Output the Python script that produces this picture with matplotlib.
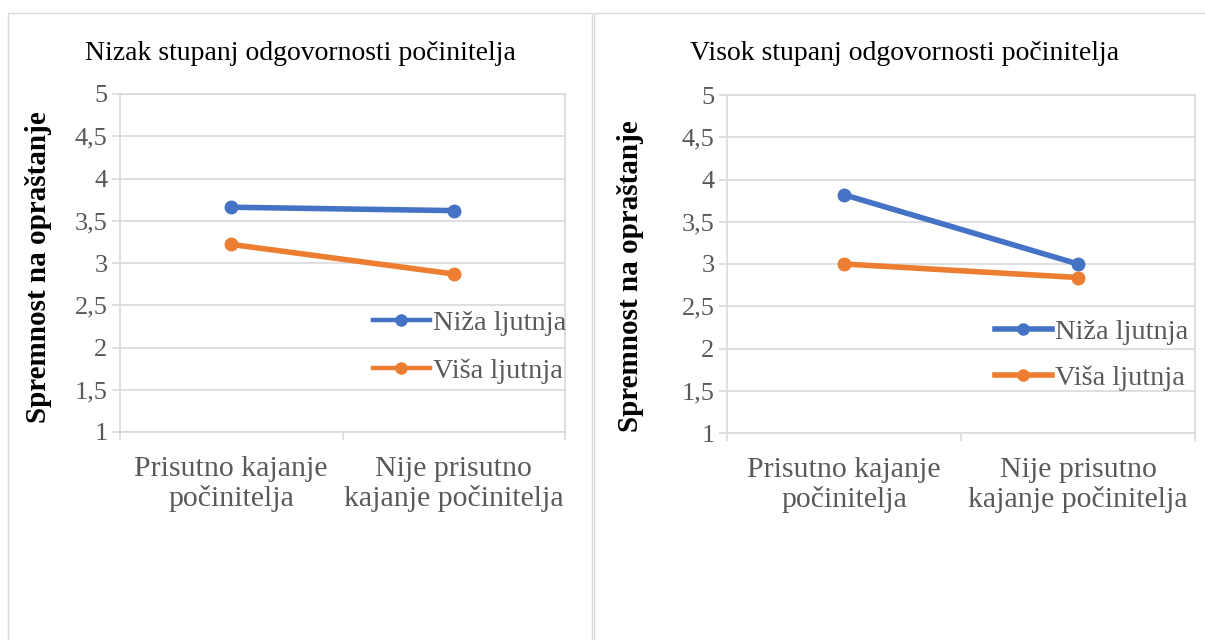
import matplotlib.pyplot as plt
from matplotlib.patches import Rectangle
from matplotlib.lines import Line2D

# Data
categories = ["Prisutno kajanje\npočinitelja", "Nije prisutno\nkajanje počinitelja"]
series_names = ["Niža ljutnja", "Viša ljutnja"]
low_resp_nize = [3.66, 3.62]
low_resp_vise = [3.22, 2.87]
high_resp_nize = [3.82, 3.00]
high_resp_vise = [3.00, 2.84]
titles = ["Nizak stupanj odgovornosti počinitelja", "Visok stupanj odgovornosti počinitelja"]
yticks = [1, 1.5, 2, 2.5, 3, 3.5, 4, 4.5, 5]
ytick_labels = [str(v).replace(".", ",").replace(",0", "") for v in yticks]

plt.rcParams['font.family'] = ['Liberation Serif', 'DejaVu Serif']

W, H = 1205, 640
fig = plt.figure(figsize=(W / 100, H / 100), dpi=100)

blue = "#4472C4"
orange = "#ED7D31"
grid = "#D9D9D9"
txt = "#595959"

def fx(px):
    return px / W

def fy(py):
    return 1 - py / H

# panel borders
fig.patches.append(Rectangle((fx(8), fy(700)), fx(584), (700 - 13) / H,
                             transform=fig.transFigure, fill=False, edgecolor="#D9D9D9", lw=1))
fig.patches.append(Rectangle((fx(594), fy(700)), fx(640), (700 - 13) / H,
                             transform=fig.transFigure, fill=False, edgecolor="#D9D9D9", lw=1))

panels = [
    dict(box=(120, 94, 565, 432), data=(low_resp_nize, low_resp_vise), title_x=300,
         ylabel_x=39, ylabel_y=267, leg_x=373, leg_y=347, leg_lw=3.2, leg_sp=0.8),
    dict(box=(727, 95, 1195, 433), data=(high_resp_nize, high_resp_vise), title_x=905,
         ylabel_x=630, ylabel_y=276, leg_x=995, leg_y=355, leg_lw=4, leg_sp=0.72),
]

for i, p in enumerate(panels):
    x0, y0, x1, y1 = p["box"]
    ax = fig.add_axes([fx(x0), fy(y1), fx(x1 - x0), (y1 - y0) / H])
    xs = range(len(categories))
    for vals, name, col in zip(p["data"], series_names, [blue, orange]):
        ax.plot(xs, vals, color=col, lw=4, marker="o", markersize=9,
                label=name, solid_capstyle="round")
    ax.set_xlim(-0.5, 1.5)
    ax.set_ylim(1, 5)
    ax.set_yticks(yticks)
    ax.set_yticklabels(ytick_labels, color=txt, fontsize=19)
    ax.yaxis.grid(True, color=grid, lw=1.2)
    ax.set_axisbelow(True)
    ax.set_xticks(list(xs))
    ax.set_xticklabels(categories, color=txt, fontsize=21.5, linespacing=1.14)
    ax.set_xticks([-0.5, 0.5, 1.5], minor=True)
    ax.tick_params(axis="x", which="major", length=0, pad=17)
    ax.tick_params(axis="x", which="minor", length=6, color=grid, width=1.2)
    ax.tick_params(axis="y", length=6, color=grid, width=1.2, pad=3)
    for s in ax.spines.values():
        s.set_color(grid)
        s.set_linewidth(1.2)

    fig.text(fx(p["title_x"]), fy(53), titles[i], ha="center", va="center",
             fontsize=20, color="black")
    fig.text(fx(p["ylabel_x"]), fy(p["ylabel_y"]), "Spremnost na opraštanje",
             rotation=90, ha="center", va="center", fontsize=21,
             fontweight="bold", color="black")

    handles = [Line2D([], [], color=c, lw=p["leg_lw"], marker="o", markersize=8)
               for c in [blue, orange]]
    fig.legend(handles, series_names, loc="center left",
               bbox_to_anchor=(fx(p["leg_x"]), fy(p["leg_y"])),
               frameon=False, fontsize=20.4, handlelength=2.0, handletextpad=0.12,
               labelspacing=p["leg_sp"], borderpad=0, borderaxespad=0, labelcolor=txt)

fig.savefig("out.png", dpi=100)
